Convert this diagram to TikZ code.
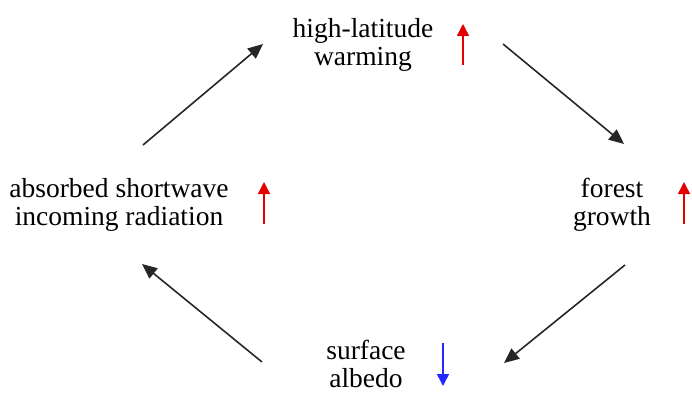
\documentclass[tikz,border=0pt]{standalone}
\usepackage{fontspec}
\setmainfont{Liberation Serif}
\newfontfamily\tnr{Liberation Serif}
\usetikzlibrary{arrows.meta}
\begin{document}
\begin{tikzpicture}[x=1pt,y=-1pt,
  lbl/.style={align=center,font=\tnr\fontsize{27.5}{28.5}\selectfont,inner sep=0pt},
  cyc/.style={line width=1.6pt,draw=black!85,-{Triangle[length=15pt,width=13pt]}},
  upar/.style={line width=1.5pt,draw=red!90!black,-{Triangle[length=12pt,width=12pt]}},
  dnar/.style={line width=1.5pt,draw=blue!85!white,-{Triangle[length=12pt,width=12pt]}}]
\useasboundingbox (0,0) rectangle (692,393);
\node[lbl] (hw) at (363,45) {high-latitude\\warming};
\node[lbl] (fg) at (612,205) {forest\\growth};
\node[lbl] (sa) at (366,364) {surface\\albedo};
\node[lbl] (ab) at (119,205) {absorbed shortwave\\incoming radiation};
% cycle arrows
\coordinate (a1s) at (143,145); \coordinate (a1e) at (263,44);
\coordinate (a2s) at (503,44); \coordinate (a2e) at (624,144);
\coordinate (a3s) at (625,265); \coordinate (a3e) at (504,363);
\coordinate (a4s) at (262,362); \coordinate (a4e) at (142,264);
\draw[cyc] (a1s) -- (a1e);
\draw[cyc] (a2s) -- (a2e);
\draw[cyc] (a3s) -- (a3e);
\draw[cyc] (a4s) -- (a4e);
% indicator arrows
\coordinate (u1s) at (463,65); \coordinate (u1e) at (463,24);
\coordinate (u2s) at (264,224); \coordinate (u2e) at (264,182);
\coordinate (u3s) at (684,224); \coordinate (u3e) at (684,182);
\coordinate (d1s) at (443,343); \coordinate (d1e) at (443,386);
\draw[upar] (u1s) -- (u1e);
\draw[upar] (u2s) -- (u2e);
\draw[upar] (u3s) -- (u3e);
\draw[dnar] (d1s) -- (d1e);
\end{tikzpicture}
\end{document}
